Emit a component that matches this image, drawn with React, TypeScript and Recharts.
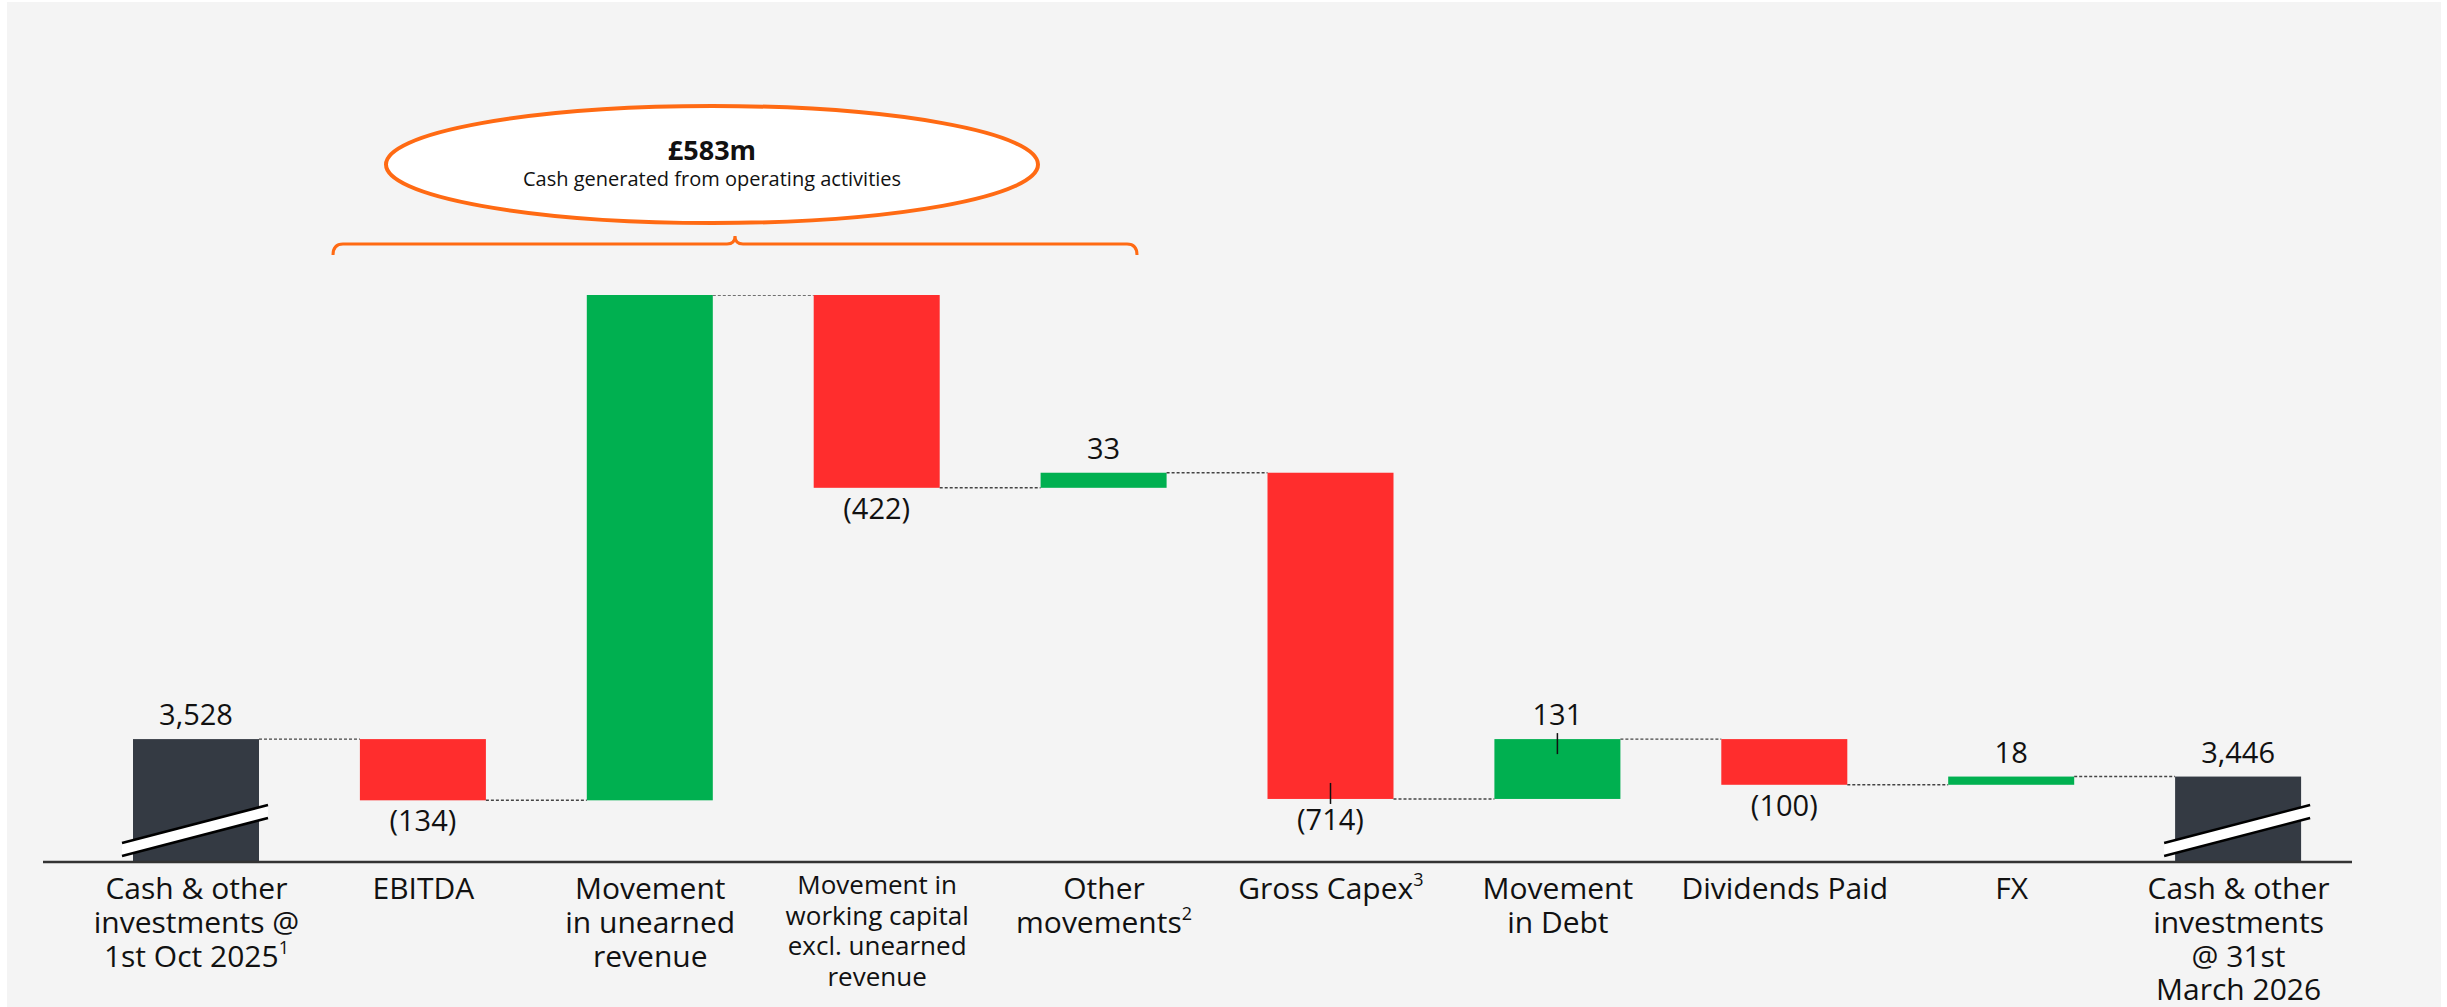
import React from 'react';
import { BarChart, Bar, XAxis, YAxis, Cell } from 'recharts';

const CATEGORIES = [
  'Cash & other investments @ 1st Oct 2025',
  'EBITDA',
  'Movement in unearned revenue',
  'Movement in working capital excl. unearned revenue',
  'Other movements',
  'Gross Capex',
  'Movement in Debt',
  'Dividends Paid',
  'FX',
  'Cash & other investments @ 31st March 2026',
];

const TICK_LINES = [
  ['Cash & other', 'investments @', '1st Oct 2025'],
  ['EBITDA'],
  ['Movement', 'in unearned', 'revenue'],
  ['Movement in', 'working capital', 'excl. unearned', 'revenue'],
  ['Other', 'movements'],
  ['Gross Capex'],
  ['Movement', 'in Debt'],
  ['Dividends Paid'],
  ['FX'],
  ['Cash & other', 'investments', '@ 31st', 'March 2026'],
];

const FOOTNOTES = ['1', '', '', '', '2', '3', '', '', '', ''];

// £m movements; totals are opening / closing balances
const VALUES = [3528, -134, 1106, -422, 33, -714, 131, -100, 18, 3446];
const IS_TOTAL = [true, false, false, false, false, false, false, false, false, true];

// bars whose value label has a small leader tick
const LEADER = ['Gross Capex', 'Movement in Debt'];

// broken axis: the total bars are cut off at this level
const AXIS_FLOOR = 3259;

const DARK = '#343a43';
const GREEN = '#00b050';
const RED = '#ff2d2d';
const ORANGE = '#ff6a13';
const FONT = '"Open Sans", Lato, sans-serif';

const W = 2447;
const H = 1007;
const M_LEFT = 43;
const M_RIGHT = 95;
const PAD_LEFT = 40;
const BAR_W = 126;
const BAND = (W - M_LEFT - M_RIGHT - PAD_LEFT) / CATEGORIES.length;

let running = 0;
const data = CATEGORIES.map((name, i) => {
  const v = VALUES[i];
  let range: [number, number];
  if (IS_TOTAL[i]) {
    range = [AXIS_FLOOR, v];
    running = v;
  } else {
    const next = running + v;
    range = [Math.min(running, next), Math.max(running, next)];
    running = next;
  }
  return { name, range };
});

const fmt = (i: number) => {
  const v = VALUES[i];
  const s = Math.abs(v).toLocaleString('en-GB');
  return v < 0 ? `(${s})` : s;
};

const WaterfallBar = (props: any) => {
  const { x, y, width, height, index } = props;
  const v = VALUES[index];
  const total = IS_TOTAL[index];
  const up = total || v >= 0;
  const fill = total ? DARK : v >= 0 ? GREEN : RED;
  const top = y;
  const bottom = y + height;
  const cx = x + width / 2;
  const level = up ? top : bottom;
  const labelY = up ? top - 14 : bottom + 31;
  const leader = LEADER.includes(CATEGORIES[index]);
  return (
    <g>
      <rect x={x} y={top} width={width} height={height} fill={fill} />
      {total && (
        <g>
          <polygon
            points={`${x - 11},${bottom - 19} ${x + width + 9},${bottom - 57} ${x + width + 9},${bottom - 44} ${x - 11},${bottom - 6}`}
            fill="#fff"
          />
          <line x1={x - 11} y1={bottom - 19} x2={x + width + 9} y2={bottom - 57} stroke="#000" strokeWidth={2.5} />
          <line x1={x - 11} y1={bottom - 6} x2={x + width + 9} y2={bottom - 44} stroke="#000" strokeWidth={2.5} />
        </g>
      )}
      {index < VALUES.length - 1 && (
        <line
          x1={x + width}
          y1={level}
          x2={x + BAND}
          y2={level}
          stroke="#444"
          strokeWidth={1.4}
          strokeDasharray="3 2"
        />
      )}
      {leader && (
        up
          ? <line x1={cx} y1={top - 6} x2={cx} y2={top + 15} stroke="#111" strokeWidth={1.5} />
          : <line x1={cx} y1={bottom - 16} x2={cx} y2={bottom + 5} stroke="#111" strokeWidth={1.5} />
      )}
      <text x={cx} y={labelY} textAnchor="middle" fontSize={29} fontFamily={FONT} fill="#111">
        {fmt(index)}
      </text>
    </g>
  );
};

const CategoryTick = (props: any) => {
  const { x, y, payload } = props;
  const i = CATEGORIES.indexOf(payload.value);
  const lines = TICK_LINES[i] || [];
  const compact = lines.length > 3 && !IS_TOTAL[i];
  const size = compact ? 26 : 30;
  const lh = compact ? 30.7 : 33.8;
  const first = compact ? 24 : 29;
  return (
    <text x={x} y={y} textAnchor="middle" fontSize={size} fontFamily={FONT} fill="#111">
      {lines.map((ln, k) => (
        <tspan key={k} x={x} y={y + first + k * lh}>
          {ln}
          {k === lines.length - 1 && FOOTNOTES[i] && (
            <tspan fontSize={18} dy={-13}>{FOOTNOTES[i]}</tspan>
          )}
        </tspan>
      ))}
    </text>
  );
};

export default function App() {
  return (
    <div style={{ position: 'absolute', left: 0, top: 0, width: W, height: H, background: '#fff', overflow: 'hidden' }}>
      <div style={{ position: 'absolute', left: 7, top: 2, width: 2434, height: 1005, background: '#f4f4f4' }} />
      <div style={{ position: 'absolute', left: 0, top: 0 }}>
        <BarChart
          width={W}
          height={H}
          data={data}
          margin={{ top: 295, right: M_RIGHT, bottom: 5, left: M_LEFT }}
          barSize={BAR_W}
        >
          <XAxis
            dataKey="name"
            interval={0}
            height={140}
            tickLine={false}
            axisLine={{ stroke: '#333', strokeWidth: 2.5 }}
            padding={{ left: PAD_LEFT, right: 0 }}
            tick={<CategoryTick />}
          />
          <YAxis hide domain={[AXIS_FLOOR, 'dataMax']} allowDataOverflow />
          <Bar dataKey="range" isAnimationActive={false} shape={<WaterfallBar />}>
            {data.map((d, i) => (
              <Cell key={d.name} fill={IS_TOTAL[i] ? DARK : VALUES[i] >= 0 ? GREEN : RED} />
            ))}
          </Bar>
        </BarChart>
      </div>
      <svg width={W} height={H} style={{ position: 'absolute', left: 0, top: 0, pointerEvents: 'none' }}>
        <ellipse cx={712} cy={164.5} rx={326} ry={58.5} fill="#fff" stroke={ORANGE} strokeWidth={4} />
        <text x={712} y={160} textAnchor="middle" fontSize={27} fontWeight={700} fontFamily={FONT} fill="#111">
          £583m
        </text>
        <text x={712} y={186} textAnchor="middle" fontSize={20} fontFamily={FONT} fill="#111">
          Cash generated from operating activities
        </text>
        <path
          d="M333,255 Q333,244 343,244 L727,244 Q735,244 735,236 Q735,244 743,244 L1127,244 Q1137,244 1137,255"
          fill="none"
          stroke={ORANGE}
          strokeWidth={3}
        />
      </svg>
    </div>
  );
}
